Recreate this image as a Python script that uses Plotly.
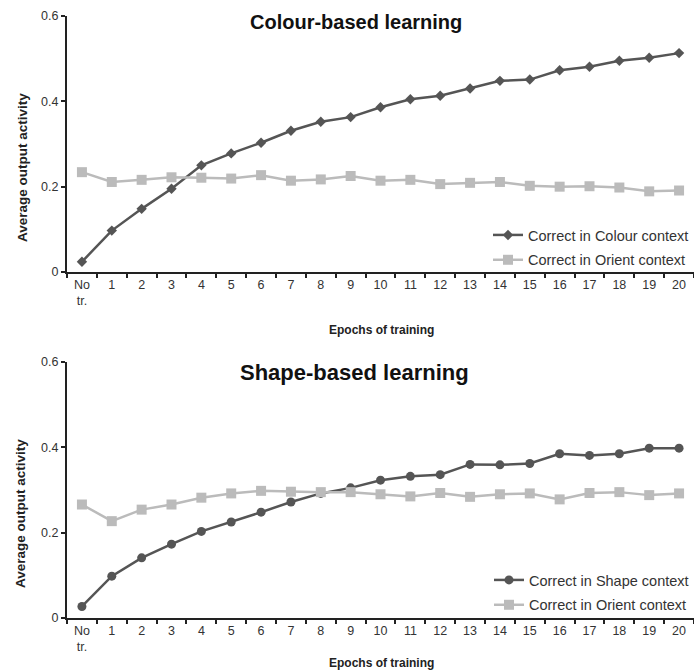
import plotly.graph_objects as go

# Training epochs (first point = before training)
epochs = ["No<br>tr."] + [str(i) for i in range(1, 21)]

# Colour-based learning
colour_correct = [0.024, 0.097, 0.148, 0.195, 0.250, 0.278, 0.303, 0.331, 0.352, 0.363, 0.386,
                  0.405, 0.413, 0.430, 0.448, 0.451, 0.473, 0.481, 0.495, 0.502, 0.513]
colour_orient = [0.234, 0.211, 0.216, 0.222, 0.221, 0.219, 0.227, 0.214, 0.217, 0.225, 0.214,
                 0.216, 0.206, 0.209, 0.211, 0.202, 0.200, 0.201, 0.198, 0.189, 0.191]

# Shape-based learning
shape_correct = [0.027, 0.098, 0.141, 0.173, 0.203, 0.225, 0.248, 0.272, 0.292, 0.305, 0.323,
                 0.332, 0.336, 0.360, 0.359, 0.362, 0.385, 0.381, 0.385, 0.398, 0.398]
shape_orient = [0.266, 0.227, 0.254, 0.266, 0.282, 0.292, 0.298, 0.296, 0.295, 0.295, 0.290,
                0.285, 0.293, 0.284, 0.290, 0.292, 0.278, 0.293, 0.295, 0.288, 0.292]

y_ticks = [0, 0.2, 0.4, 0.6]
y_tick_text = ["0", "0.2", "0.4", "0.6"]

DARK = "#555555"
LIGHT = "#bbbbbb"
FONT = "Liberation Sans"

fig = go.Figure()


def add_series(x, y, name, color, symbol, size, axis, legend, group):
    fig.add_trace(go.Scatter(
        x=x, y=y, name=name, mode="lines+markers",
        line=dict(color=color, width=2.5),
        marker=dict(symbol=symbol, size=size, color=color),
        xaxis="x" + axis, yaxis="y" + axis, legend=legend, legendgroup=group))


add_series(epochs, colour_correct, "Correct in Colour context", DARK, "diamond", 8, "", "legend", "a")
add_series(epochs, colour_orient, "Correct in Orient context", LIGHT, "square", 10, "", "legend", "b")
add_series(epochs, shape_correct, "Correct in Shape context", DARK, "circle", 9, "2", "legend2", "c")
add_series(epochs, shape_orient, "Correct in Orient context", LIGHT, "square", 10, "2", "legend2", "d")

W, H = 694, 672
L = 67


def py(px):
    return (H - px) / H


def px_x(px):
    return (px - L) / (W - L)


xaxis_style = dict(type="category", tickson="boundaries", ticks="outside", ticklen=4,
                   tickwidth=1.5, tickcolor="#222", showline=True, linecolor="#222",
                   linewidth=2, showgrid=False, zeroline=False, automargin=False,
                   tickfont=dict(size=12.5, color="#333", family=FONT),
                   range=[-0.5, 20.5], domain=[0, 1])
yaxis_style = dict(range=[0, 0.6], tickvals=y_ticks, ticktext=y_tick_text, ticks="outside",
                   ticklen=4, tickwidth=1.5, tickcolor="#222", showline=True,
                   linecolor="#222", linewidth=2, showgrid=False, zeroline=False,
                   automargin=False, tickfont=dict(size=12.5, color="#333", family=FONT))

legend_style = dict(x=1, xanchor="right", yanchor="top", bgcolor="rgba(0,0,0,0)",
                    font=dict(size=14.5, color="#333", family=FONT), tracegroupgap=3,
                    itemwidth=30)


def label(text, x, y, size, angle=0, color="#222"):
    return dict(text=text, x=px_x(x), y=py(y), xref="paper", yref="paper",
                xanchor="center", yanchor="middle", showarrow=False, textangle=angle,
                font=dict(size=size, color=color, family=FONT))


fig.update_layout(
    width=W, height=H,
    margin=dict(l=L, r=0, t=0, b=0),
    paper_bgcolor="white", plot_bgcolor="white",
    font=dict(family=FONT, color="#222"),
    xaxis=dict(xaxis_style, anchor="y"),
    yaxis=dict(yaxis_style, domain=[py(272), py(16)], anchor="x"),
    xaxis2=dict(xaxis_style, anchor="y2"),
    yaxis2=dict(yaxis_style, domain=[py(618), py(362)], anchor="x2"),
    legend=dict(legend_style, y=py(219)),
    legend2=dict(legend_style, y=py(564)),
    showlegend=True,
    annotations=[
        label("<b>Colour-based learning</b>", 356, 22, 20, color="#111"),
        label("<b>Shape-based learning</b>", 354, 372, 22, color="#111"),
        label("<b>Average output activity</b>", 22, 168, 13.5, angle=-90),
        label("<b>Average output activity</b>", 20, 514, 13.5, angle=-90),
        label("<b>Epochs of training</b>", 381, 330, 12),
        label("<b>Epochs of training</b>", 381, 663, 12),
    ],
)

fig.write_html("out.html")
